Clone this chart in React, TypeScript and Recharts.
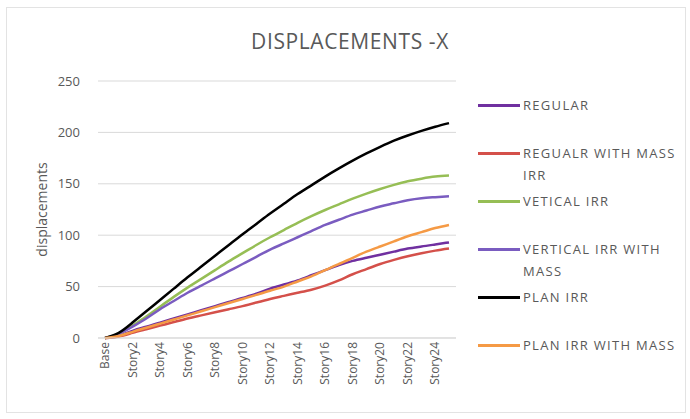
import { LineChart, Line, XAxis, YAxis, CartesianGrid } from 'recharts';

// categories (Base, Story1 ... Story25)
const stories = ['Base', ...Array.from({ length: 25 }, (_, i) => `Story${i + 1}`)];

const regular = [0, 2, 7, 11, 15, 19, 23, 27, 31, 35, 39, 43, 48, 52, 56, 61, 66, 71, 75, 78, 81, 84, 87, 89, 91, 93];
const regularMassIrr = [0, 1.5, 5, 8.5, 12, 15.5, 19, 22, 25, 28, 31, 34.5, 38, 41, 44, 47, 51, 56, 62, 67, 72, 76, 79.5, 82.5, 85, 87];
const verticalIrr = [0, 4, 12, 21, 30.5, 40, 49, 57.5, 66, 74.5, 82.5, 90.5, 98, 105, 112, 118.5, 124.5, 130, 135.5, 140.5, 145, 149, 152.5, 155, 157, 158];
const verticalIrrMass = [0, 4, 11, 19, 28, 36, 44, 51, 58, 65, 72, 79, 86, 92, 98, 104, 110, 115, 120, 124, 128, 131, 134, 136, 137, 138];
const planIrr = [0, 5, 15, 26, 37, 48, 59, 69.5, 80, 90.5, 101, 111, 121, 130.5, 140, 148.5, 157, 165, 172.5, 179.5, 186, 192, 197, 201.5, 205.5, 209];
const planIrrMass = [0, 2, 6, 10, 14, 18, 22, 26, 30, 34, 38, 42, 46, 50, 55, 60, 66, 72, 78, 84, 89, 94, 99, 103, 107, 110];

const yTicks = [0, 50, 100, 150, 200, 250];

const series = [
  { key: 'regular', name: 'REGULAR', values: regular, color: '#7030A0' },
  { key: 'regularMassIrr', name: 'REGUALR WITH MASS IRR', values: regularMassIrr, color: '#D4504A' },
  { key: 'verticalIrr', name: 'VETICAL IRR', values: verticalIrr, color: '#96BE55' },
  { key: 'verticalIrrMass', name: 'VERTICAL IRR WITH MASS', values: verticalIrrMass, color: '#7A5CC0' },
  { key: 'planIrr', name: 'PLAN IRR', values: planIrr, color: '#000000' },
  { key: 'planIrrMass', name: 'PLAN IRR WITH MASS', values: planIrrMass, color: '#F59A45' },
];

const data = stories.map((name, i) => {
  const row: Record<string, string | number> = { name };
  series.forEach(s => { row[s.key] = s.values[i]; });
  return row;
});

const font = '"Open Sans", "Noto Sans", sans-serif';
const textColor = '#595959';

const StoryTick = ({ x, y, payload }: any) => (
  <text
    x={x}
    y={y}
    transform={`rotate(-90, ${x}, ${y})`}
    textAnchor="end"
    dy="0.35em"
    fontSize={12}
    fontFamily={font}
    fill={textColor}
  >
    {payload.value}
  </text>
);

export default function App() {
  return (
    <div style={{ position: 'absolute', left: 0, top: 0, width: 690, height: 419, background: '#fff', fontFamily: font }}>
      <div style={{ position: 'absolute', left: 6, top: 7, width: 678, height: 404, border: '1px solid #e3e3e3' }} />

      <div style={{ position: 'absolute', left: 0, width: 700, top: 27, textAlign: 'center', fontSize: 21, letterSpacing: 0.6, color: textColor }}>
        DISPLACEMENTS -X
      </div>

      <div style={{ position: 'absolute', left: 0, top: 0 }}>
        <LineChart width={690} height={419} data={data} margin={{ top: 81, right: 234, bottom: 21, left: 0 }}>
          <CartesianGrid vertical={false} stroke="#d9d9d9" />
          <XAxis
            dataKey="name"
            interval={1}
            padding={{ left: 7, right: 7 }}
            height={60}
            tickLine={false}
            tickSize={0}
            tickMargin={4}
            stroke="#d9d9d9"
            tick={<StoryTick />}
          />
          <YAxis
            domain={[0, 250]}
            ticks={yTicks}
            width={98}
            axisLine={false}
            tickLine={false}
            tickMargin={12}
            tick={{ fill: textColor, fontSize: 13, fontFamily: font }}
            label={{
              value: 'displacements',
              angle: -90,
              position: 'insideLeft',
              dx: 37,
              style: { textAnchor: 'middle', fill: textColor, fontSize: 14, fontFamily: font },
            }}
          />
          {series.map(s => (
            <Line
              key={s.key}
              type="natural"
              dataKey={s.key}
              name={s.name}
              stroke={s.color}
              strokeWidth={2.5}
              dot={false}
              isAnimationActive={false}
            />
          ))}
        </LineChart>
      </div>

      {series.map((s, i) => (
        <div key={s.key} style={{ position: 'absolute', left: 478, top: 94 + i * 48, display: 'flex', alignItems: 'flex-start' }}>
          <div style={{ width: 42, height: 3, background: s.color, marginTop: 10, marginRight: 3 }} />
          <div style={{ width: 162, fontSize: 13, letterSpacing: 1.3, lineHeight: '22px', color: textColor }}>{s.name}</div>
        </div>
      ))}
    </div>
  );
}
